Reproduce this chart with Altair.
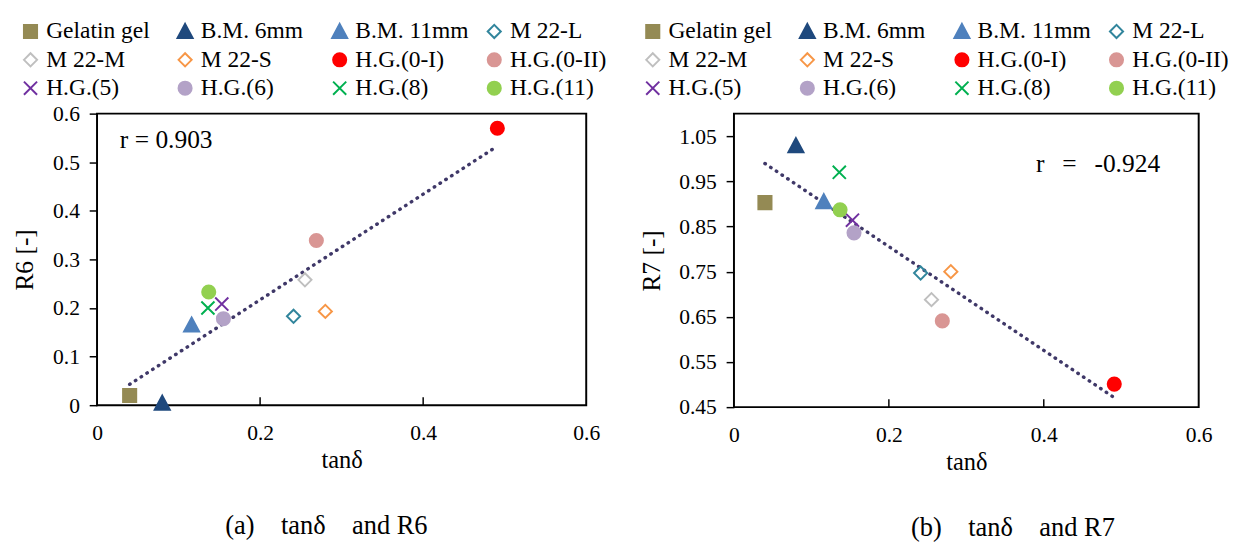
import altair as alt
import pandas as pd

FONT = "Liberation Serif"

SERIES = ["Gelatin gel", "B.M. 6mm", "B.M. 11mm", "M 22-L",
          "M 22-M", "M 22-S", "H.G.(0-I)", "H.G.(0-II)",
          "H.G.(5)", "H.G.(6)", "H.G.(8)", "H.G.(11)"]
TAN_DELTA = [0.040, 0.080, 0.116, 0.241, 0.255, 0.280, 0.491, 0.269, 0.153, 0.155, 0.136, 0.137]
R6 = [0.020, 0.004, 0.165, 0.183, 0.258, 0.193, 0.570, 0.339, 0.208, 0.178, 0.200, 0.233]
R7 = [0.903, 1.029, 0.905, 0.747, 0.688, 0.750, 0.501, 0.641, 0.864, 0.836, 0.970, 0.887]

X_MARK = "M-1,-1L1,1M-1,1L1,-1"
TRIANGLE = "M0,-1.15L1.15,1L-1.15,1Z"
SHAPES = ["square", TRIANGLE, TRIANGLE, "diamond",
          "diamond", "diamond", "circle", "circle",
          X_MARK, "circle", X_MARK, "circle"]
STROKE_COLORS = ["#948A54", "#1F497D", "#4F81BD", "#31859C",
                 "#BFBFBF", "#F79646", "#FF0000", "#D99694",
                 "#7030A0", "#B3A2C7", "#00B050", "#92D050"]
FILL_COLORS = ["#948A54", "#1F497D", "#4F81BD", "transparent",
               "transparent", "transparent", "#FF0000", "#D99694",
               "transparent", "#B3A2C7", "transparent", "#92D050"]

X_TICKS = [0, 0.2, 0.4, 0.6]
INNER_X_TICKS = [0.2, 0.4]
R6_TICKS = [0, 0.1, 0.2, 0.3, 0.4, 0.5, 0.6]
R7_TICKS = [0.45, 0.55, 0.65, 0.75, 0.85, 0.95, 1.05]


def panel(rvals, ydomain, yticks, yfmt, ytitle, rtext, rx, ry, caption, cap_dx,
          w, h, lx, ly):
    df = pd.DataFrame({"series": SERIES, "tan": TAN_DELTA, "r": rvals})
    leg = alt.Legend(orient="none", legendX=lx, legendY=ly, columns=4,
                     direction="horizontal",
                     gridAlign="all", columnPadding=14, rowPadding=5,
                     labelFont=FONT, labelFontSize=24, labelColor="black",
                     labelOffset=4, symbolSize=180, symbolStrokeWidth=2,
                     title=None, labelLimit=300)
    xenc = alt.X("tan:Q",
                 scale=alt.Scale(domain=[0, 0.6], nice=False, zero=False),
                 axis=alt.Axis(values=X_TICKS, format="~g", title="tanδ", grid=False,
                               domain=False, ticks=False, labelPadding=18,
                               titlePadding=5, labelFont=FONT, titleFont=FONT,
                               labelFontSize=22, titleFontSize=25,
                               labelColor="black", titleColor="black",
                               titleFontWeight="normal", labelFlush=False))
    yenc = alt.Y("r:Q",
                 scale=alt.Scale(domain=ydomain, nice=False, zero=False),
                 axis=alt.Axis(values=yticks, format=yfmt, title=ytitle,
                               grid=False, domain=False, tickSize=8,
                               tickWidth=1.5, tickColor="black",
                               labelPadding=10, titlePadding=15,
                               labelFont=FONT, titleFont=FONT,
                               labelFontSize=22, titleFontSize=26,
                               labelColor="black", titleColor="black",
                               titleFontWeight="normal", labelFlush=False))
    base = alt.Chart(df)
    pts = base.mark_point(size=180, strokeWidth=2, opacity=1).encode(
        x=xenc, y=yenc,
        shape=alt.Shape("series:N", scale=alt.Scale(domain=SERIES, range=SHAPES), legend=leg),
        fill=alt.Fill("series:N", scale=alt.Scale(domain=SERIES, range=FILL_COLORS), legend=leg),
        stroke=alt.Stroke("series:N", scale=alt.Scale(domain=SERIES, range=STROKE_COLORS), legend=leg),
    )
    trend = base.transform_regression("tan", "r").mark_line(
        color="#3F3868", strokeWidth=3.5, strokeDash=[0.5, 6.5], strokeCap="round"
    ).encode(x=xenc, y=yenc)
    ticks = alt.Chart(pd.DataFrame({"tan": INNER_X_TICKS})).mark_rule(
        color="black", strokeWidth=1.5
    ).encode(x=xenc, y=alt.value(h), y2=alt.value(h - 8))
    label = alt.Chart(pd.DataFrame({"tan": [rx], "r": [ry]})).mark_text(
        align="left", baseline="middle", fontSize=26, font=FONT, color="black",
        text=rtext
    ).encode(x=xenc, y=yenc)
    return alt.layer(ticks, trend, pts, label).properties(
        width=w, height=h,
        title=alt.Title(caption, orient="bottom", anchor="start", frame="group",
                        dx=cap_dx, offset=42, fontSize=27, font=FONT,
                        fontWeight="normal", color="black"),
    )


left = panel(R6, [0, 0.6], R6_TICKS, "~g", "R6 [-]", "r = 0.903", 0.028, 0.545,
             "(a)\u2003tan\u03b4\u2003and R6", 131, 500, 298, -80, -96)
right = panel(R7, [0.45, 1.10], R7_TICKS, ".2f", "R7 [-]",
              "r\u2002\u2009=\u2002\u2009-0.924", 0.39, 0.987,
              "(b)\u2003tan\u03b4\u2003and R7", 181, 475, 300, -95, -96)

chart = alt.hconcat(left, right, spacing=151, bounds="flush").resolve_legend(
    fill="independent", stroke="independent", shape="independent"
).resolve_scale(
    fill="independent", stroke="independent", shape="independent"
).properties(
    padding={"left": 3, "top": 5, "right": 0, "bottom": 0},
    background="white",
).configure(font=FONT).configure_view(stroke="black", strokeWidth=2)

chart.save("out.html", embed_options={"renderer": "svg", "actions": False})
